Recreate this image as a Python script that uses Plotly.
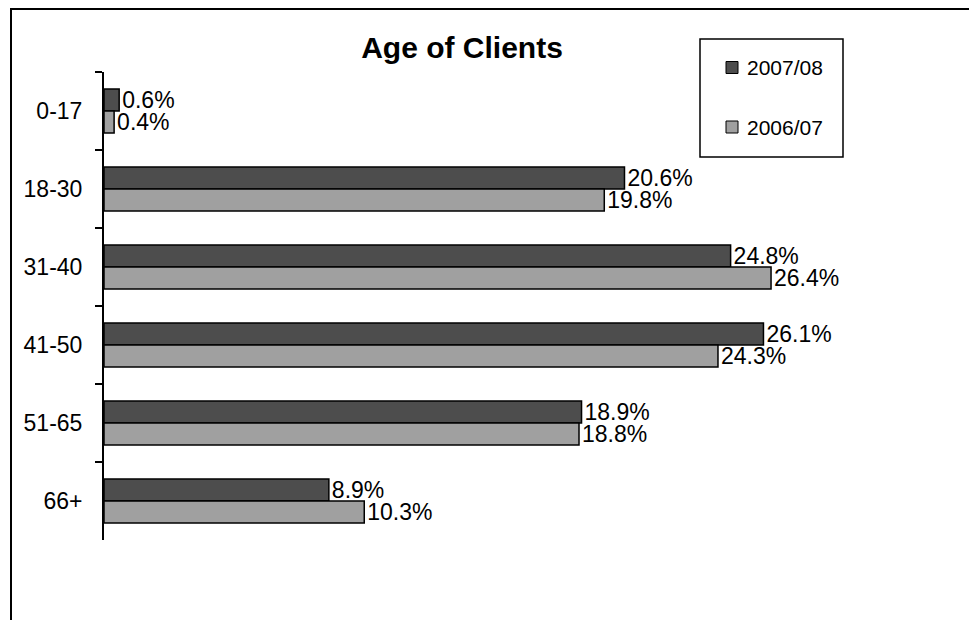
import plotly.graph_objects as go

categories = ["0-17", "18-30", "31-40", "41-50", "51-65", "66+"]
series_names = ["2007/08", "2006/07"]
values_0708 = [0.6, 20.6, 24.8, 26.1, 18.9, 8.9]
values_0607 = [0.4, 19.8, 26.4, 24.3, 18.8, 10.3]
title_text = "Age of Clients"

# page body margin offset (the figure div starts 8px in from the window corner)
OX, OY = 8, 8
W, H = 977, 620
L, R, T, B = 104 - OX, 115 + OX, 72 - OY, 80 + OY
PW, PH = W - L - R, H - T - B

def px(x):
    return (x - OX - L) / PW

def py(y):
    return 1 - (y - OY - T) / PH

FONT = "Arial, Liberation Sans, sans-serif"
DARK = "#4d4d4d"
LIGHT = "#a0a0a0"

fig = go.Figure()
for name, vals, col in [(series_names[0], values_0708, DARK), (series_names[1], values_0607, LIGHT)]:
    fig.add_trace(go.Bar(
        y=categories, x=vals, name=name, orientation="h",
        marker=dict(color=col, line=dict(color="black", width=1.5)),
        text=[f"{v:.1f}%" for v in vals], textposition="outside",
        textfont=dict(family=FONT, size=23, color="black"),
        constraintext="none", cliponaxis=False, showlegend=False,
    ))

shapes = [
    dict(type="line", xref="paper", yref="paper", x0=px(10), x1=px(990), y0=py(9), y1=py(9),
         line=dict(color="black", width=2)),
    dict(type="line", xref="paper", yref="paper", x0=px(11), x1=px(11), y0=py(9), y1=py(640),
         line=dict(color="black", width=2)),
    dict(type="rect", xref="paper", yref="paper", x0=px(700), x1=px(843), y0=py(39), y1=py(157),
         line=dict(color="black", width=1.5), fillcolor="white"),
]
annotations = []
leg_y = [67.5, 127]
for name, col, yc in zip(series_names, [DARK, LIGHT], leg_y):
    shapes.append(dict(type="rect", xref="paper", yref="paper", x0=px(726), x1=px(738),
                       y0=py(yc - 6), y1=py(yc + 6), fillcolor=col,
                       line=dict(color="black", width=1)))
    annotations.append(dict(text=name, xref="paper", yref="paper", x=px(745), y=py(yc),
                            xanchor="left", yanchor="middle", showarrow=False,
                            font=dict(family=FONT, size=21, color="black")))

fig.update_layout(
    width=W, height=H,
    margin=dict(l=L, r=R, t=T, b=B),
    paper_bgcolor="white", plot_bgcolor="white",
    barmode="group", bargap=0.436, bargroupgap=0,
    title=dict(text=f"<b>{title_text}</b>", x=(462 - OX) / W, xanchor="center",
               y=1 - (47 - OY) / H, yanchor="middle",
               font=dict(family=FONT, size=30, color="black")),
    xaxis=dict(range=[0, 30], visible=False, showgrid=False, zeroline=False),
    yaxis=dict(autorange="reversed", type="category", showline=True, linecolor="black",
               linewidth=2, ticks="outside", ticklen=7, tickwidth=2, tickcolor="black",
               tickson="boundaries", showgrid=False, ticklabelstandoff=15,
               tickfont=dict(family=FONT, size=23, color="black")),
    shapes=shapes, annotations=annotations,
)

fig.write_html("out.html")
